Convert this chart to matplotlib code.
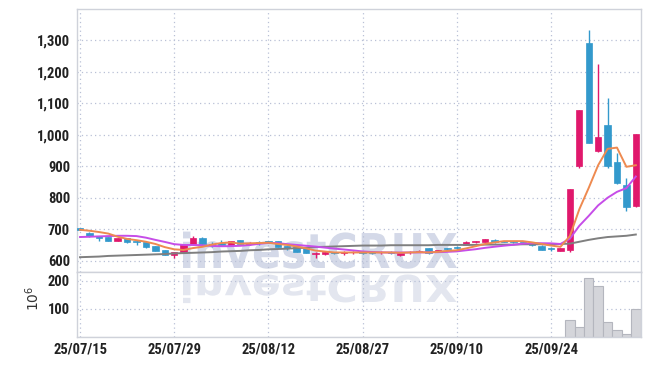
import matplotlib
matplotlib.use("Agg")
import matplotlib.pyplot as plt
from matplotlib import font_manager as fm
from matplotlib.textpath import TextPath
from matplotlib.patches import PathPatch
from matplotlib.transforms import Affine2D
from matplotlib.font_manager import FontProperties

# ---------------- data ----------------
dates = ["25/07/15", "25/07/16", "25/07/17", "25/07/18", "25/07/21", "25/07/22", "25/07/23", "25/07/24",
         "25/07/25", "25/07/28", "25/07/29", "25/07/30", "25/07/31", "25/08/01", "25/08/04", "25/08/05",
         "25/08/06", "25/08/07", "25/08/08", "25/08/11", "25/08/12", "25/08/13", "25/08/14", "25/08/18",
         "25/08/19", "25/08/20", "25/08/21", "25/08/22", "25/08/25", "25/08/26", "25/08/27", "25/08/28",
         "25/08/29", "25/09/01", "25/09/02", "25/09/03", "25/09/04", "25/09/05", "25/09/08", "25/09/09",
         "25/09/10", "25/09/11", "25/09/12", "25/09/15", "25/09/16", "25/09/17", "25/09/18", "25/09/19",
         "25/09/22", "25/09/23", "25/09/24", "25/09/25", "25/09/26", "25/09/29", "25/09/30", "25/10/01",
         "25/10/02", "25/10/10", "25/10/13", "25/10/14"]

opens = [705, 690, 678, 676, 664, 673, 662, 659, 648, 635, 620, 628, 653, 674, 654, 658, 651, 667, 655, 659,
         663, 663, 648, 643, 640, 622, 621, 628, 625, 627, 627, 627, 627, 630, 618, 627, 628, 640, 628, 640,
         643, 651, 660, 660, 667, 664, 662, 662, 659, 649, 640, 633, 635, 903, 1291, 950, 1032, 913, 841, 776]
highs = [706, 692, 680, 677, 674, 674, 666, 660, 649, 636, 629, 655, 680, 675, 660, 667, 664, 668, 661, 662,
         665, 664, 649, 644, 641, 627, 631, 629, 632, 632, 628, 629, 632, 632, 627, 632, 634, 641, 636, 642,
         646, 662, 665, 670, 669, 665, 664, 665, 661, 650, 643, 641, 829, 1080, 1333, 1225, 1116, 943, 862, 1004]
lows = [697, 675, 665, 663, 662, 657, 651, 642, 631, 618, 610, 627, 652, 652, 645, 650, 650, 654, 651, 652,
        656, 643, 635, 628, 624, 611, 620, 622, 620, 622, 621, 622, 622, 623, 617, 621, 627, 623, 627, 635,
        638, 650, 657, 659, 657, 660, 657, 659, 649, 634, 632, 631, 630, 895, 975, 947, 895, 845, 760, 772]
closes = [698, 678, 673, 665, 673, 661, 660, 644, 633, 620, 627, 653, 672, 655, 652, 652, 663, 655, 657, 658,
          658, 644, 640, 630, 626, 626, 630, 624, 629, 628, 626, 626, 628, 625, 626, 628, 633, 625, 635, 638,
          641, 661, 661, 669, 661, 661, 661, 661, 651, 636, 638, 640, 828, 1079, 976, 995, 903, 849, 770, 1003]
volumes = [0.8, 0.6, 0.5, 0.5, 0.4, 0.5, 0.4, 0.5, 0.6, 0.7, 0.6, 1.2, 1.5, 0.8, 0.5, 0.4, 0.5, 0.4, 0.3, 0.3,
           0.3, 0.5, 0.4, 0.5, 0.4, 0.5, 0.3, 0.3, 0.3, 0.2, 0.2, 0.2, 0.2, 0.2, 0.3, 0.2, 0.3, 0.3, 0.3, 0.3,
           0.3, 0.8, 0.5, 0.6, 0.4, 0.3, 0.3, 0.2, 0.3, 0.4, 0.3, 0.3, 61, 36, 210, 181, 54, 24, 11, 100]

ma5 = [699, 696, 692, 687, 677, 670, 666, 661, 654, 644, 637, 635, 641, 645, 652, 657, 659, 655, 656, 657,
       658, 654, 651, 646, 640, 633, 630, 627, 627, 627, 627, 627, 627, 627, 626, 627, 628, 627, 629, 632,
       634, 640, 647, 654, 659, 663, 663, 663, 659, 654, 649, 645, 679, 764, 832, 904, 956, 960, 899, 904]
ma10 = [676, 677, 678, 679, 680, 680, 679, 674, 667, 660.5, 653.4, 650.9, 650.8, 649.8, 647.7, 646.8, 647.1,
        648.2, 650.6, 654.4, 657.5, 656.6, 653.4, 650.9, 648.3, 645.7, 642.4, 639.3, 636.5, 633.5, 630.3,
        628.5, 627.3, 626.8, 626.8, 627.0, 627.3, 627.4, 628.0, 629.0, 630.5, 634.0, 637.3, 641.7, 645.2,
        648.5, 651.3, 654.9, 656.5, 656.3, 656.0, 653.9, 670.6, 711.6, 743.1, 776.5, 800.7, 819.5, 831.4, 868.1]
ma_long = [612, 613, 614, 616, 617, 618, 619, 620, 621, 622, 624, 625, 626, 627, 628, 630, 631, 632, 634, 635,
           637, 638, 639, 641, 642, 644, 645, 646, 647, 648, 649, 649, 649, 650, 650, 650, 650, 650, 651, 651,
           651, 651, 651, 652, 652, 652, 652, 653, 653, 653, 653, 654, 655, 661, 667, 672, 676, 678, 680, 684]

price_ticks = [600, 700, 800, 900, 1000, 1100, 1200, 1300]
price_labels = ["600", "700", "800", "900", "1,000", "1,100", "1,200", "1,300"]
vol_ticks = [100, 200]
vol_labels = ["100", "200"]
date_tick_idx = [0, 10, 20, 30, 40, 50]

# ---------------- style ----------------
UP = "#e0186c"
DOWN = "#3399cc"
C_MA5 = "#ee8a50"
C_MA10 = "#c64de8"
C_MAL = "#7f7f7f"
GRID = "#b9c0d6"
SPINE = "#cfd2da"
WM = "#d4d9e8"
WM2 = "#e3e6ef"

avail = {f.name for f in fm.fontManager.ttflist}
cond = None
for n in ["Liberation Sans Narrow", "Roboto Condensed", "Open Sans Condensed", "DejaVu Sans"]:
    if n in avail:
        cond = n
        break
tick_font = dict(family=[cond, "DejaVu Sans"], weight="bold", size=10.5)

W, H = 650, 366
fig = plt.figure(figsize=(W / 100, H / 100), dpi=100)
L, R = 77, 641
ax = fig.add_axes([L / W, 1 - 272 / H, (R - L) / W, (272 - 9) / H])
axv = fig.add_axes([L / W, 1 - 337 / H, (R - L) / W, (337 - 272) / H], sharex=ax)

n = len(closes)
xs = list(range(n))
for a in (ax, axv):
    a.set_facecolor("white")
    for s in a.spines.values():
        s.set_color(SPINE)
        s.set_linewidth(1.0)
    a.tick_params(length=0)
    a.grid(True, color=GRID, linestyle=(0, (1, 2.5)), linewidth=0.9)
    a.set_axisbelow(True)

# watermark (top + squashed reflection), in display pixel coords
fp = FontProperties(family="DejaVu Sans", weight="bold")
tp = TextPath((0, 0), "investCRUX", size=100, prop=fp)
bb = tp.get_extents()
sx = (457 - 183) / bb.width
sy_top = 35 / 73.0
sy_ref = 27 / 73.0
t_top = Affine2D().translate(-bb.x0, 0).scale(sx, sy_top).translate(183, H - 268)
t_ref = Affine2D().translate(-bb.x0, 0).scale(sx, -sy_ref).translate(183, H - 275)
ax.add_artist(PathPatch(tp, transform=t_top, facecolor=WM, edgecolor="none", zorder=0.5))
axv.add_artist(PathPatch(tp, transform=t_ref, facecolor=WM2, edgecolor="none", zorder=0.5))

# candles
body_w = 0.68
for i in xs:
    o, c, h, l = opens[i], closes[i], highs[i], lows[i]
    col = UP if c >= o else DOWN
    ax.vlines(i, l, h, color=col, linewidth=1.0, zorder=2)
    bottom = min(o, c)
    height = max(abs(c - o), 2.0)
    ax.bar(i, height, bottom=bottom, width=body_w, color=col, edgecolor=col, linewidth=0.5, zorder=3)

# moving averages
ax.plot(xs, ma_long, color=C_MAL, linewidth=1.4, zorder=4)
ax.plot(xs, ma10, color=C_MA10, linewidth=1.4, zorder=4)
ax.plot(xs, ma5, color=C_MA5, linewidth=1.4, zorder=4)

ax.set_ylim(565, 1400)
ax.set_yticks(price_ticks)
ax.set_yticklabels(price_labels, **tick_font, color="#222222")
ax.set_xlim(-0.32, 59.55)
ax.set_xticks(date_tick_idx)
ax.tick_params(axis="x", labelbottom=False)
ax.tick_params(axis="y", pad=5)

# volume
axv.bar(xs, volumes, width=1.0, color="#d4d5da", edgecolor="#b4b6be", linewidth=0.8, zorder=2)
axv.set_ylim(0, 232)
axv.set_yticks(vol_ticks)
axv.set_yticklabels(vol_labels, **tick_font, color="#222222")
axv.set_xticks(date_tick_idx)
axv.set_xticklabels([dates[i] for i in date_tick_idx], **tick_font, color="#222222")
axv.tick_params(axis="y", pad=5)
axv.tick_params(axis="x", pad=4)
fig.text(33 / W, 1 - 298 / H, r"$10^6$", rotation=90, ha="center", va="center", fontsize=10, color="#333333")

fig.savefig("out.png", dpi=100, facecolor="white")
